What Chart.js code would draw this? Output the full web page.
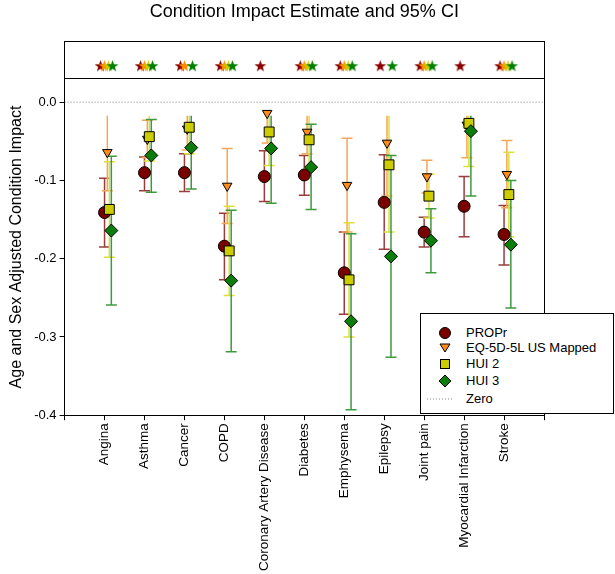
<!DOCTYPE html>
<html>
<head>
<meta charset="utf-8">
<script src="https://cdn.jsdelivr.net/npm/chart.js@4"></script>
<style>
body { margin: 0; background: #fff; }
#wrap { position: relative; width: 615px; height: 574px; }
#legend { position: absolute; left: 420px; top: 313px; width: 192px; height: 99px; border: 1px solid #000; background: #fff;
  font: 13px Arial, 'Liberation Sans', sans-serif; color: #000; }
.row { position: absolute; left: 0; width: 190px; height: 16px; line-height: 16px; }
.row svg { position: absolute; left: 17px; top: 1px; }
.row span { position: absolute; left: 45px; white-space: nowrap; }
</style>
</head>
<body>
<div id="wrap">
  <canvas id="impact" width="615" height="574"></canvas>
  <div id="legend">
    <div class="row" style="top:11px"><svg width="14" height="14"><circle cx="7" cy="7" r="5.5" fill="#7a0000" stroke="#000"/></svg><span>PROPr</span></div>
    <div class="row" style="top:26px"><svg width="14" height="14"><polygon points="2,3 12,3 7,11" fill="#ff8c1a" stroke="#000"/></svg><span>EQ-5D-5L US Mapped</span></div>
    <div class="row" style="top:42px"><svg width="14" height="14"><rect x="2.5" y="2.5" width="9" height="9" fill="#cccc00" stroke="#000"/></svg><span>HUI 2</span></div>
    <div class="row" style="top:59px"><svg width="14" height="14"><polygon points="7,1 13,7 7,13 1,7" fill="#0a7d0a" stroke="#000"/></svg><span>HUI 3</span></div>
    <div class="row" style="top:77px"><svg width="26" height="14" style="left:6px"><line x1="0" y1="7" x2="26" y2="7" stroke="#888" stroke-dasharray="1,2"/></svg><span>Zero</span></div>
  </div>
</div>
<script>
var categories = ['Angina', 'Asthma', 'Cancer', 'COPD', 'Coronary Artery Disease', 'Diabetes',
  'Emphysema', 'Epilepsy', 'Joint pain', 'Myocardial Infarction', 'Stroke'];

// estimates and 95% CI bounds
var propr     = [-0.141, -0.090, -0.090, -0.184, -0.095, -0.093, -0.218, -0.128, -0.166, -0.133, -0.169];
var proprLow  = [-0.185, -0.113, -0.114, -0.227, -0.127, -0.119, -0.271, -0.188, -0.185, -0.172, -0.208];
var proprHigh = [-0.097, -0.070, -0.066, -0.142, -0.062, -0.068, -0.166, -0.067, -0.147, -0.095, -0.132];

var eq     = [-0.064, -0.047, -0.034, -0.107, -0.014, -0.038, -0.106, -0.052, -0.095, -0.029, -0.092];
var eqLow  = [-0.113, -0.071, -0.061, -0.155, -0.052, -0.066, -0.166, -0.120, -0.116, -0.071, -0.135];
var eqHigh = [-0.015, -0.023, -0.007, -0.059, 0.024, -0.010, -0.046, 0.016, -0.074, 0.013, -0.049];

var hui2     = [-0.137, -0.044, -0.032, -0.190, -0.038, -0.048, -0.227, -0.080, -0.120, -0.027, -0.118];
var hui2Low  = [-0.198, -0.075, -0.066, -0.247, -0.081, -0.084, -0.300, -0.166, -0.148, -0.082, -0.172];
var hui2High = [-0.076, -0.013, 0.002, -0.133, 0.005, -0.012, -0.154, 0.006, -0.092, 0.028, -0.064];

var hui3     = [-0.164, -0.068, -0.058, -0.228, -0.059, -0.083, -0.280, -0.197, -0.177, -0.037, -0.182];
var hui3Low  = [-0.259, -0.115, -0.111, -0.319, -0.129, -0.137, -0.393, -0.326, -0.218, -0.120, -0.263];
var hui3High = [-0.069, -0.022, -0.006, -0.138, 0.011, -0.028, -0.168, -0.068, -0.136, 0.046, -0.100];

// significance stars (1 = shown)
var proprStars = [1, 1, 1, 1, 1, 1, 1, 1, 1, 1, 1];
var eqStars    = [1, 1, 1, 1, 0, 1, 1, 0, 1, 0, 1];
var hui2Stars  = [1, 1, 0, 1, 0, 1, 1, 0, 1, 0, 1];
var hui3Stars  = [1, 1, 1, 1, 0, 1, 1, 1, 1, 0, 1];

var yTicks = [0, -0.1, -0.2, -0.3, -0.4];

function whiskers(lo, hi, off) {
  var pts = [];
  for (var i = 0; i < categories.length; i++) {
    pts.push({x: i + 1 + off, y: lo[i]});
    pts.push({x: i + 1 + off, y: hi[i]});
    pts.push({x: i + 1 + off, y: null});
  }
  return pts;
}
function points(est, off) {
  return est.map(function (v, i) { return {x: i + 1 + off, y: v}; });
}
function stars(flags, off) {
  var pts = [];
  flags.forEach(function (f, i) { if (f) pts.push({x: i + 1 + off, y: 0.35}); });
  return pts;
}
function starImage(color) {
  var c = document.createElement('canvas');
  c.width = 13; c.height = 13;
  var g = c.getContext('2d');
  g.fillStyle = color;
  g.beginPath();
  for (var k = 0; k < 10; k++) {
    var r = k % 2 ? 2.5 : 6.2;
    var a = -Math.PI / 2 + k * Math.PI / 5;
    g.lineTo(6.5 + r * Math.cos(a), 7 + r * Math.sin(a));
  }
  g.closePath();
  g.fill();
  return c;
}

var series = [
  {name: 'PROPr', est: propr, lo: proprLow, hi: proprHigh, st: proprStars, off: 0, soff: -0.1,
   fill: '#7a0000', bar: '#9b3c3c', star: '#8b0000', style: 'circle', r: 6, rot: 0},
  {name: 'EQ-5D-5L US Mapped', est: eq, lo: eqLow, hi: eqHigh, st: eqStars, off: 0.07, soff: 0,
   fill: '#ff8c1a', bar: '#f2a65a', star: '#ff8c00', style: 'triangle', r: 5.5, rot: 180},
  {name: 'HUI 2', est: hui2, lo: hui2Low, hi: hui2High, st: hui2Stars, off: 0.12, soff: 0.1,
   fill: '#cccc00', bar: '#dede3c', star: '#cccc00', style: 'rect', r: 7, rot: 0},
  {name: 'HUI 3', est: hui3, lo: hui3Low, hi: hui3High, st: hui3Stars, off: 0.17, soff: 0.2,
   fill: '#0a7d0a', bar: '#3c9a3c', star: '#008000', style: 'rectRot', r: 6.5, rot: 0}
];

var datasets = [{
  label: 'Zero', data: [{x: 0, y: 0}, {x: 12, y: 0}], yAxisID: 'y', showLine: true,
  borderColor: '#888', borderWidth: 1, borderDash: [1, 2], pointRadius: 0, order: 30
}];
series.forEach(function (s, k) {
  datasets.push({
    label: s.name + ' CI', data: whiskers(s.lo, s.hi, s.off), yAxisID: 'y', showLine: true, spanGaps: false,
    borderColor: s.bar, borderWidth: 1.5, pointStyle: 'line', pointRadius: 5.5, pointBorderWidth: 1.5,
    pointBorderColor: s.bar, clip: {left: false, right: false, bottom: false, top: -37}, order: 29 - k
  });
  datasets.push({
    label: s.name, data: points(s.est, s.off), yAxisID: 'y',
    pointStyle: s.style, pointRadius: s.r, pointRotation: s.rot, backgroundColor: s.fill,
    borderColor: '#000', borderWidth: 1, clip: false, order: 20 - k
  });
  datasets.push({
    label: s.name + ' sig', data: stars(s.st, s.soff), yAxisID: 'yTop',
    pointStyle: starImage(s.star), pointRadius: 6, clip: false, order: 10 - k
  });
});

var ctx_impact = document.getElementById('impact').getContext('2d');
var impactGraph = new Chart(ctx_impact, {
  type: 'scatter',
  data: {datasets: datasets},
  options: {
    responsive: false,
    animation: false,
    events: [],
    layout: {padding: {left: 7, right: 63, top: 0, bottom: 0}},
    font: {family: "Arial, 'Liberation Sans', sans-serif"},
    plugins: {
      legend: {display: false},
      tooltip: {enabled: false},
      title: {display: true, fullSize: false, text: 'Condition Impact Estimate and 95% CI', color: '#000',
        font: {size: 18, weight: 'normal', family: "Arial, 'Liberation Sans', sans-serif"},
        padding: {top: 1, bottom: 19}}
    },
    scales: {
      x: {
        type: 'linear', min: 0, max: 12,
        afterBuildTicks: function (s) { s.ticks = categories.concat(['', '']).map(function (c, i) { return {value: i}; }); },
        ticks: {autoSkip: false, minRotation: 90, maxRotation: 90, padding: 3, color: '#000',
          font: {size: 13.5, family: "Arial, 'Liberation Sans', sans-serif"},
          callback: function (v) { return categories[v - 1] || ''; }},
        grid: {drawOnChartArea: false, color: '#000', tickLength: 5},
        border: {color: '#000', width: 1}
      },
      y: {
        type: 'linear', position: 'left', min: -0.4, max: 0.03, stack: 'left', stackWeight: 335,
        afterBuildTicks: function (s) { s.ticks = yTicks.map(function (v) { return {value: v}; }); },
        ticks: {color: '#000', padding: 3, font: {size: 13, family: "Arial, 'Liberation Sans', sans-serif"},
          callback: function (v) { return v.toFixed(1); }},
        grid: {drawOnChartArea: false, color: '#000', tickLength: 5},
        border: {color: '#000', width: 1},
        title: {display: true, text: 'Age and Sex Adjusted Condition Impact', color: '#000',
          font: {size: 16, family: "Arial, 'Liberation Sans', sans-serif"}, padding: {top: 0, bottom: 5}}
      },
      yTop: {
        type: 'linear', position: 'left', min: 0, max: 1, stack: 'left', stackWeight: 37,
        afterBuildTicks: function (s) { s.ticks = [{value: 0}, {value: 1}]; },
        ticks: {display: false},
        grid: {drawTicks: false, color: '#000', lineWidth: 1},
        border: {color: '#000', width: 1}
      },
      yRight: {
        type: 'linear', position: 'right', min: 0, max: 1,
        ticks: {display: false},
        grid: {display: false},
        border: {color: '#000', width: 1}
      }
    }
  }
});
</script>
</body>
</html>
